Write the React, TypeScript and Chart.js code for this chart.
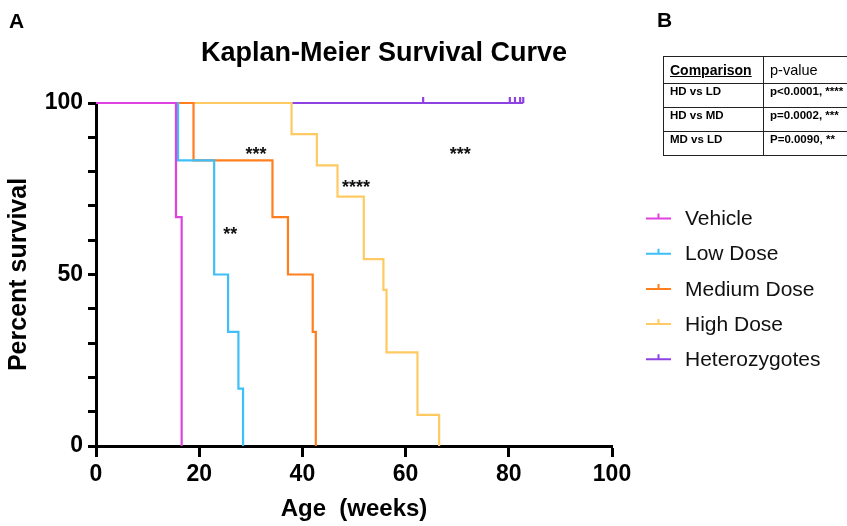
import React, { useEffect, useRef } from "react";
import { Chart, registerables } from "chart.js";

Chart.register(...registerables);

const FONT = "'Liberation Sans', Arial, Helvetica, sans-serif";

// Groups
const groupNames = ["Vehicle", "Low Dose", "Medium Dose", "High Dose", "Heterozygotes"];
const groupColors = ["#E042E2", "#3EBFF8", "#FF7F1F", "#FFCA62", "#8F42E2"];

// Kaplan-Meier step data (weeks, percent survival after each event)
const vehicleWeeks = [0, 15.5, 16.6];
const vehicleSurvival = [100, 66.7, 0];

const lowWeeks = [0, 15.9, 22.9, 25.6, 27.6, 28.5];
const lowSurvival = [100, 83.3, 50, 33.3, 16.7, 0];

const mediumWeeks = [0, 18.9, 34.2, 37.2, 42.0, 42.6];
const mediumSurvival = [100, 83.3, 66.7, 50, 33.3, 0];

const highWeeks = [0, 37.9, 42.8, 46.8, 51.9, 55.7, 56.3, 62.3, 66.5];
const highSurvival = [100, 90.9, 81.8, 72.7, 54.5, 45.5, 27.3, 9.1, 0];

const hetWeeks = [0, 82.8];
const hetSurvival = [100, 100];

// Censored observations (heterozygotes)
const hetCensorWeeks = [63.4, 80.2, 81.2, 82.2, 82.8];
const hetCensorSurvival = [100, 100, 100, 100, 100];

// Significance annotations
const sigLabels = ["***", "**", "****", "***"];
const sigWeeks = [31.0, 26.0, 50.4, 70.6];
const sigSurvival = [86.4, 63.2, 76.9, 86.4];

// Table B
const comparisons = ["HD vs LD", "HD vs MD", "MD vs LD"];
const pValues = ["p<0.0001, ****", "p=0.0002, ***", "P=0.0090, **"];

const xTickStep = 20;
const yTickStep = 10;
const yLabelEvery = 50;

const toPoints = (xs: number[], ys: number[]) => xs.map((x, i) => ({ x, y: ys[i] }));

const sigPlugin = {
  id: "sigPlugin",
  afterDatasetsDraw(chart: any) {
    const { ctx, scales } = chart;
    const size = 18;
    ctx.save();
    ctx.fillStyle = "#111";
    ctx.font = `bold ${size}px ${FONT}`;
    ctx.textAlign = "center";
    ctx.textBaseline = "alphabetic";
    sigLabels.forEach((t, i) => {
      const px = scales.x.getPixelForValue(sigWeeks[i]);
      const py = scales.y.getPixelForValue(sigSurvival[i]);
      ctx.fillText(t, px, py + 0.58 * size);
    });
    ctx.restore();
  },
};

const legendPlugin = {
  id: "kmLegend",
  afterDraw(chart: any) {
    const { ctx, chartArea } = chart;
    const x0 = chartArea.right + 34;
    const lineLen = 25;
    const textX = x0 + 39;
    const top = 218.5;
    const gap = 35.2;
    ctx.save();
    ctx.font = `21px ${FONT}`;
    ctx.textAlign = "left";
    ctx.textBaseline = "middle";
    groupNames.forEach((name, i) => {
      const y = top + i * gap;
      ctx.strokeStyle = groupColors[i];
      ctx.lineWidth = 2;
      ctx.beginPath();
      ctx.moveTo(x0, y);
      ctx.lineTo(x0 + lineLen, y);
      ctx.moveTo(x0 + lineLen / 2, y);
      ctx.lineTo(x0 + lineLen / 2, y - 5);
      ctx.stroke();
      ctx.fillStyle = "#111";
      ctx.fillText(name, textX, y + 1);
    });
    ctx.restore();
  },
};

function KMChart() {
  const ref = useRef<HTMLCanvasElement | null>(null);
  useEffect(() => {
    if (!ref.current) return;
    const series = [
      [vehicleWeeks, vehicleSurvival],
      [lowWeeks, lowSurvival],
      [mediumWeeks, mediumSurvival],
      [highWeeks, highSurvival],
      [hetWeeks, hetSurvival],
    ];
    const datasets: any[] = series.map(([xs, ys], i) => ({
      label: groupNames[i],
      data: toPoints(xs as number[], ys as number[]),
      borderColor: groupColors[i],
      backgroundColor: groupColors[i],
      borderWidth: 2.2,
      stepped: "before",
      pointRadius: 0,
      fill: false,
      clip: false,
    }));
    datasets.push({
      label: "Heterozygotes censored",
      data: toPoints(hetCensorWeeks, hetCensorSurvival),
      showLine: false,
      pointStyle: "dash",
      pointRotation: -90,
      pointRadius: 6,
      pointBorderWidth: 2.2,
      pointBorderColor: groupColors[4],
      pointBackgroundColor: groupColors[4],
      borderColor: groupColors[4],
      clip: false,
    });

    const tickFont = { family: FONT, size: 23, weight: "bold" as const };
    const chart = new Chart(ref.current, {
      type: "line",
      data: { datasets },
      options: {
        responsive: false,
        animation: false,
        events: [],
        layout: { padding: { top: 103, right: 235, bottom: 0, left: 0 } },
        plugins: {
          legend: { display: false },
          tooltip: { enabled: false },
          title: { display: false },
        },
        scales: {
          x: {
            type: "linear",
            min: 0,
            max: 100,
            ticks: { stepSize: xTickStep, color: "#000", padding: 4, font: tickFont, maxRotation: 0 },
            grid: {
              display: true,
              drawOnChartArea: false,
              drawTicks: true,
              tickLength: 11,
              tickWidth: 3,
              tickColor: "#000",
              color: "#000",
            },
            border: { display: true, color: "#000", width: 3 },
            title: {
              display: true,
              text: "Age  (weeks)",
              color: "#000",
              font: { family: FONT, size: 24, weight: "bold" },
              padding: { top: 0, bottom: 2 },
            },
            afterFit: (s: any) => {
              s.height = 80;
            },
          },
          y: {
            type: "linear",
            min: 0,
            max: 100,
            ticks: {
              stepSize: yTickStep,
              color: "#000",
              padding: 5,
              font: tickFont,
              autoSkip: false,
              callback: (v: any) => (Math.round(Number(v)) % yLabelEvery === 0 ? String(Math.round(Number(v))) : ""),
            },
            grid: {
              display: true,
              drawOnChartArea: false,
              drawTicks: true,
              tickLength: 8,
              tickWidth: 3,
              tickColor: "#000",
              color: "#000",
            },
            border: { display: true, color: "#000", width: 3 },
            title: {
              display: true,
              text: "Percent survival",
              color: "#000",
              font: { family: FONT, size: 25, weight: "bold" },
              padding: { top: 4, bottom: 0 },
            },
            afterFit: (s: any) => {
              s.width = 96;
            },
          },
        },
      } as any,
      plugins: [sigPlugin, legendPlugin],
    });
    return () => chart.destroy();
  }, []);
  return <canvas ref={ref} width={847} height={526} style={{ position: "absolute", left: 0, top: 0 }} />;
}

export default function App() {
  const rowTops = [27, 51, 75];
  return (
    <div
      style={{
        position: "fixed",
        left: 0,
        top: 0,
        width: 847,
        height: 526,
        background: "#fff",
        overflow: "hidden",
        fontFamily: FONT,
        color: "#000",
      }}
    >
      <KMChart />
      <div style={{ position: "absolute", left: 9, top: 10, fontSize: 21, lineHeight: "21px", fontWeight: "bold" }}>A</div>
      <div style={{ position: "absolute", left: 657, top: 9, fontSize: 21, lineHeight: "21px", fontWeight: "bold" }}>B</div>
      <div
        style={{
          position: "absolute",
          left: 184,
          width: 400,
          top: 39,
          textAlign: "center",
          fontSize: 27,
          lineHeight: "27px",
          fontWeight: "bold",
          whiteSpace: "nowrap",
        }}
      >
        Kaplan-Meier Survival Curve
      </div>
      <div
        style={{
          position: "absolute",
          left: 663,
          top: 56,
          width: 190,
          height: 100,
          borderTop: "1px solid #222",
          borderLeft: "1px solid #222",
          borderBottom: "1px solid #222",
          boxSizing: "border-box",
        }}
      >
        <div style={{ position: "absolute", left: 99, top: 0, bottom: 0, borderLeft: "1px solid #222" }} />
        {rowTops.map((t) => (
          <div key={t} style={{ position: "absolute", left: 0, right: 0, top: t - 1, borderTop: "1px solid #222" }} />
        ))}
        <div
          style={{
            position: "absolute",
            left: 6,
            top: 5,
            fontSize: 14,
            lineHeight: "16px",
            fontWeight: "bold",
            textDecoration: "underline",
          }}
        >
          Comparison
        </div>
        <div style={{ position: "absolute", left: 106, top: 5, fontSize: 14.5, lineHeight: "16px" }}>p-value</div>
        {comparisons.map((c, i) => (
          <React.Fragment key={c}>
            <div
              style={{
                position: "absolute",
                left: 6,
                top: rowTops[i] + 1,
                fontSize: 11.5,
                lineHeight: "13px",
                fontWeight: "bold",
                whiteSpace: "nowrap",
              }}
            >
              {c}
            </div>
            <div
              style={{
                position: "absolute",
                left: 106,
                top: rowTops[i] + 1,
                fontSize: 11.5,
                lineHeight: "13px",
                fontWeight: "bold",
                whiteSpace: "nowrap",
              }}
            >
              {pValues[i]}
            </div>
          </React.Fragment>
        ))}
      </div>
    </div>
  );
}
